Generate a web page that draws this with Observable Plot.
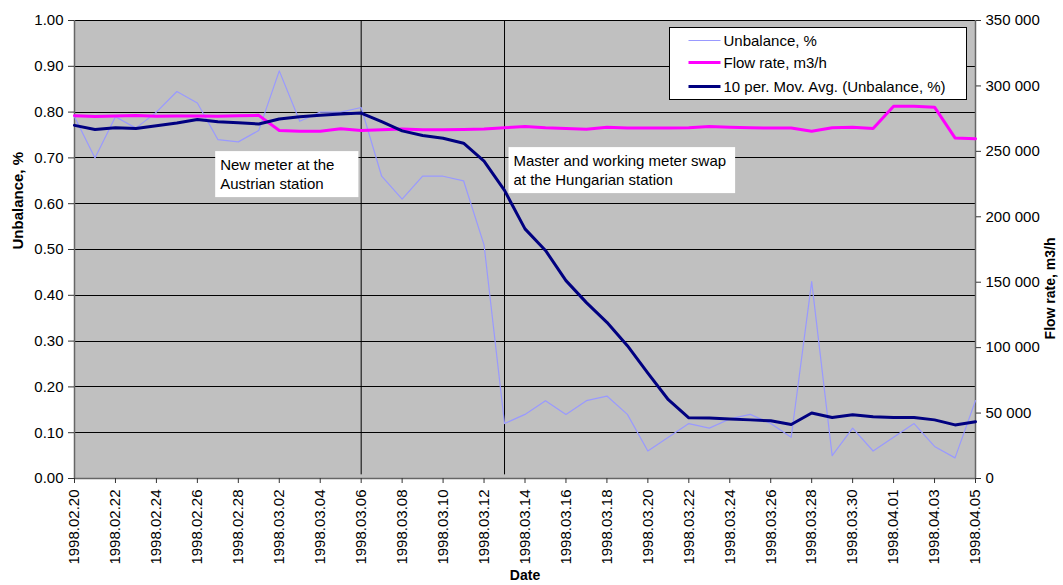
<!DOCTYPE html>
<html>
<head>
<meta charset="utf-8">
<script src="https://cdn.jsdelivr.net/npm/d3@7"></script>
<script src="https://cdn.jsdelivr.net/npm/@observablehq/plot@0.6"></script>
<style>
  body { margin: 0; background: #ffffff; }
  #chart svg { display: block; }
</style>
</head>
<body>
<div id="chart"></div>
<script>
// ---------- data ----------
const dates = [
  "1998.02.20","1998.02.21","1998.02.22","1998.02.23","1998.02.24","1998.02.25","1998.02.26","1998.02.27","1998.02.28",
  "1998.03.01","1998.03.02","1998.03.03","1998.03.04","1998.03.05","1998.03.06","1998.03.07","1998.03.08","1998.03.09",
  "1998.03.10","1998.03.11","1998.03.12","1998.03.13","1998.03.14","1998.03.15","1998.03.16","1998.03.17","1998.03.18",
  "1998.03.19","1998.03.20","1998.03.21","1998.03.22","1998.03.23","1998.03.24","1998.03.25","1998.03.26","1998.03.27",
  "1998.03.28","1998.03.29","1998.03.30","1998.03.31","1998.04.01","1998.04.02","1998.04.03","1998.04.04","1998.04.05"
];
const unbalance = [
  0.79, 0.70, 0.79, 0.765, 0.80, 0.845, 0.82, 0.74, 0.735,
  0.76, 0.89, 0.78, 0.80, 0.80, 0.81, 0.66, 0.61, 0.66,
  0.66, 0.65, 0.51, 0.12, 0.14, 0.17, 0.14, 0.17, 0.18,
  0.14, 0.06, 0.09, 0.12, 0.11, 0.13, 0.14, 0.12, 0.09,
  0.43, 0.05, 0.11, 0.06, 0.09, 0.12, 0.07, 0.045, 0.17
];
const flowRate = [
  277200, 276700, 277000, 277400, 276900, 277000, 277100, 276900, 277300,
  277500, 265900, 265300, 265400, 267200, 265900, 266500, 267000, 266600,
  266600, 266700, 267000, 268000, 269000, 268000, 267400, 266900, 268500,
  267900, 267800, 267800, 268000, 269000, 268500, 268000, 267800, 267800,
  265400, 268000, 268500, 267400, 284500, 284500, 283800, 260300, 259600
];
const movAvg = [
  0.771, 0.762, 0.766, 0.764, 0.770, 0.776, 0.784, 0.779, 0.777,
  0.774, 0.785, 0.790, 0.793, 0.796, 0.798, 0.779, 0.759, 0.749,
  0.743, 0.732, 0.693, 0.629, 0.545, 0.498, 0.432, 0.384, 0.341,
  0.290, 0.230, 0.172, 0.1325, 0.132, 0.130, 0.128, 0.126, 0.118,
  0.143, 0.133, 0.139, 0.135, 0.133, 0.133, 0.128, 0.117, 0.124
];
const xTickLabels = [
  "1998.02.20","1998.02.22","1998.02.24","1998.02.26","1998.02.28","1998.03.02","1998.03.04","1998.03.06",
  "1998.03.08","1998.03.10","1998.03.12","1998.03.14","1998.03.16","1998.03.18","1998.03.20","1998.03.22",
  "1998.03.24","1998.03.26","1998.03.28","1998.03.30","1998.04.01","1998.04.03","1998.04.05"
];
const leftTicks = [0, 0.1, 0.2, 0.3, 0.4, 0.5, 0.6, 0.7, 0.8, 0.9, 1.0];
const flowTicks = [0, 50000, 100000, 150000, 200000, 250000, 300000, 350000];
const flowMax = 350000;
const seriesNames = ["Unbalance, %", "Flow rate, m3/h", "10 per. Mov. Avg. (Unbalance, %)"];
const eventDates = ["1998.03.06", "1998.03.13"];
const eventTexts = ["New meter at the\nAustrian station", "Master and working meter swap\nat the Hungarian station"];

// ---------- build ----------
const parse = d3.utcParse("%Y.%m.%d");
const rows = dates.map((d, i) => ({date: parse(d), unbalance: unbalance[i], flow: flowRate[i], ma: movAvg[i]}));
const events = eventDates.map((d, i) => ({date: parse(d), text: eventTexts[i]}));
const colors = ["#9999ff", "#ff00ff", "#000080"];
const fmtFlow = d3.formatLocale({decimal: ".", thousands: " ", grouping: [3], currency: ["", ""]}).format(",");
const FONT = "'Liberation Sans', Arial, sans-serif";

const chart = Plot.plot({
  width: 1063,
  height: 585,
  marginLeft: 74,
  marginRight: 88,
  marginTop: 20,
  marginBottom: 107,
  style: {fontFamily: FONT, fontSize: "15px", color: "#000", background: "#fff", overflow: "visible"},
  x: {type: "utc", domain: [parse(dates[0]), parse(dates[dates.length - 1])]},
  y: {domain: [0, 1]},
  marks: [
    Plot.frame({fill: "#c0c0c0"}),
    Plot.ruleY(leftTicks.slice(1), {stroke: "#000", strokeWidth: 1, shapeRendering: "crispEdges"}),
    Plot.ruleY([0], {stroke: "#666", strokeWidth: 1.5}),
    Plot.ruleX([rows[0].date, rows[rows.length - 1].date], {stroke: "#666", strokeWidth: 1.5}),
    Plot.ruleX(events, {x: "date", y1: 0.008, y2: 1, stroke: "#000", strokeWidth: 1}),
    Plot.line(rows, {x: "date", y: "unbalance", stroke: colors[0], strokeWidth: 1.2}),
    Plot.line(rows, {x: "date", y: d => d.flow / flowMax, stroke: colors[1], strokeWidth: 3}),
    Plot.line(rows, {x: "date", y: "ma", stroke: colors[2], strokeWidth: 3}),
    Plot.text([events[0]], {x: "date", text: "text", frameAnchor: "top", dy: 153, dx: -141,
      textAnchor: "start", lineAnchor: "middle", lineHeight: 1.27, fill: "#000", ariaDescription: "note-0"}),
    Plot.text([events[1]], {x: "date", text: "text", frameAnchor: "top", dy: 149, dx: 9,
      textAnchor: "start", lineAnchor: "middle", lineHeight: 1.27, fill: "#000", ariaDescription: "note-1"}),
    Plot.axisY({ticks: leftTicks, tickFormat: d3.format(".2f"), tickSize: 6, tickPadding: 5, label: null, stroke: "#333"}),
    Plot.axisY({anchor: "right", ticks: flowTicks.map(f => f / flowMax),
      tickFormat: v => fmtFlow(Math.round(v * flowMax)), tickSize: 5, tickPadding: 5, label: null, stroke: "#333"}),
    Plot.axisX({ticks: xTickLabels.map(parse), tickFormat: d3.utcFormat("%Y.%m.%d"), tickRotate: -90,
      tickSize: 5, tickPadding: 6, label: null, stroke: "#333"}),
    Plot.text(["Unbalance, %"], {text: d => d, frameAnchor: "left", dx: -56, rotate: -90, fontWeight: "bold", fill: "#000"}),
    Plot.text(["Flow rate, m3/h"], {text: d => d, frameAnchor: "right", dx: 75, dy: -12, rotate: -90, fontWeight: "bold", fill: "#000", fontSize: 14}),
    Plot.text(["Date"], {text: d => d, frameAnchor: "bottom", dy: 101, fontWeight: "bold", fill: "#000", fontSize: 14})
  ]
});

document.getElementById("chart").append(chart);

// ---------- annotation boxes ----------
const svg = d3.select(chart);
const notePads = [[5, 24], [5, 9]];
notePads.forEach(([padL, padR], i) => {
  let g = svg.select(`g[aria-description="note-${i}"]`);
  if (g.empty()) return;
  const bb = g.node().getBBox();
  const cy = bb.y + bb.height / 2;
  g.insert("rect", ":first-child")
    .attr("x", bb.x - padL).attr("y", cy - 23)
    .attr("width", bb.width + padL + padR).attr("height", 46)
    .attr("fill", "#fff").attr("stroke", "none");
});

// ---------- legend ----------
const legend = svg.append("g").attr("transform", "translate(669.5,27.5)")
  .style("font-family", FONT).style("font-size", "15px").attr("text-anchor", "start");
legend.append("rect").attr("width", 297).attr("height", 72).attr("fill", "#fff").attr("stroke", "#000").attr("stroke-width", 1);
const rowY = [13, 35, 59];
const widths = [1.2, 3, 3];
seriesNames.forEach((name, i) => {
  legend.append("line").attr("x1", 19).attr("x2", 51).attr("y1", rowY[i]).attr("y2", rowY[i])
    .attr("stroke", colors[i]).attr("stroke-width", widths[i]);
  legend.append("text").attr("x", 54).attr("y", rowY[i]).attr("dy", "0.35em")
    .attr("text-anchor", "start").attr("fill", "#000").text(name);
});
</script>
</body>
</html>
